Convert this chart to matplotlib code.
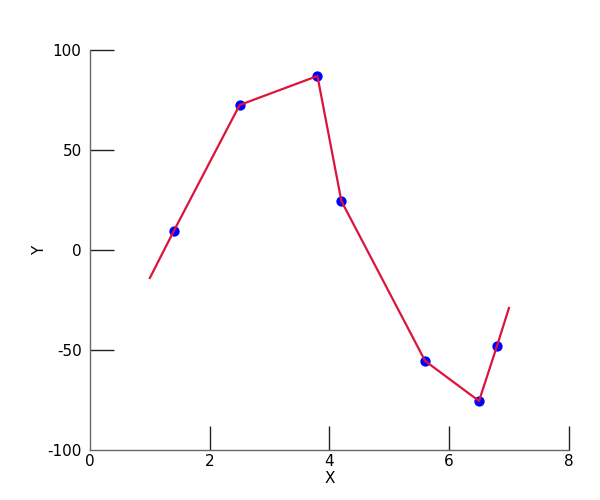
import matplotlib
matplotlib.use("Agg")
import matplotlib.pyplot as plt

plt.rcParams["axes.unicode_minus"] = False

line_x = [1.0, 1.4, 2.5, 3.8, 4.2, 5.6, 6.5, 6.8, 7.0]
line_y = [-14, 9.5, 72.5, 87, 24.5, -55.5, -75.5, -48, -29]
pts_x = [1.4, 2.5, 3.8, 4.2, 5.6, 6.5, 6.8]
pts_y = [9.5, 72.5, 87, 24.5, -55.5, -75.5, -48]
xticks = [0, 2, 4, 6, 8]
yticks = [-100, -50, 0, 50, 100]

fig = plt.figure(figsize=(6, 5), dpi=100)
ax = fig.add_axes([0.15, 0.1, 0.798, 0.8])
ax.scatter(pts_x, pts_y, s=55, color="#0000ff", zorder=2, linewidths=0)
ax.plot(line_x, line_y, color="#dc143c", lw=1.6, zorder=3)
ax.set_xlim(0, 8)
ax.set_ylim(-100, 100)
ax.set_xticks(xticks)
ax.set_yticks(yticks)
ax.spines["top"].set_visible(False)
ax.spines["right"].set_visible(False)
for s in ("left", "bottom"):
    ax.spines[s].set_color("#666666")
    ax.spines[s].set_linewidth(1.0)
ax.tick_params(direction="in", length=17, width=1, color="#222222", labelsize=11)
ax.tick_params(axis="y", pad=6)
ax.tick_params(axis="x", pad=3)
ax.xaxis.get_major_ticks()[0].tick1line.set_visible(False)
ax.yaxis.get_major_ticks()[0].tick1line.set_visible(False)
ax.set_xlabel("X", fontsize=11, labelpad=1)
ax.set_ylabel("Y", fontsize=11, labelpad=0)
fig.savefig("out.png", dpi=100)
